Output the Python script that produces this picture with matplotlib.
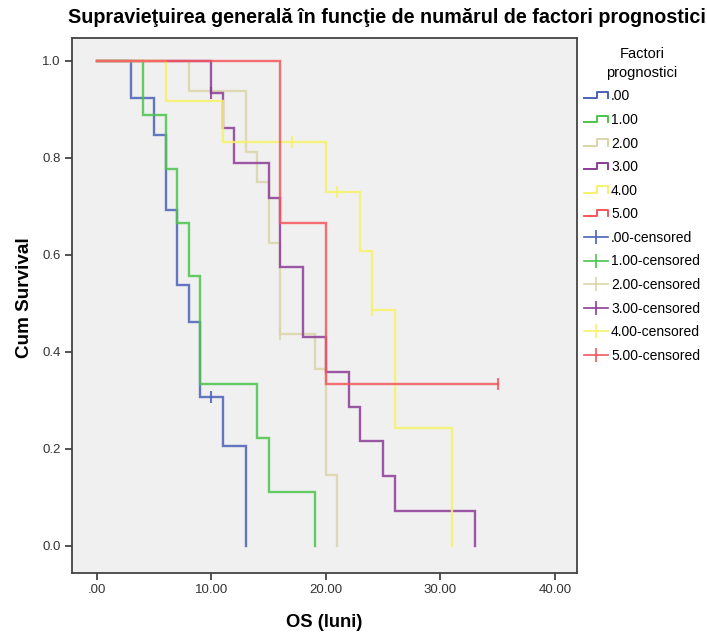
import matplotlib
matplotlib.use("Agg")
import matplotlib.pyplot as plt
from matplotlib.lines import Line2D
from matplotlib.legend_handler import HandlerBase

plt.rcParams['font.family'] = ['Liberation Sans', 'DejaVu Sans']

# survival time in months and status (1 = death, 0 = censored) per group
groups = ['.00', '1.00', '2.00', '3.00', '4.00', '5.00']
times_0 = [3, 5, 6, 6, 7, 7, 8, 9, 9, 10, 11, 13, 13]
event_0 = [1, 1, 1, 1, 1, 1, 1, 1, 1, 0, 1, 1, 1]
times_1 = [4, 6, 7, 8, 9, 9, 14, 15, 19]
event_1 = [1, 1, 1, 1, 1, 1, 1, 1, 1]
times_2 = [8, 13, 13, 14, 15, 15, 16, 16, 16, 16, 19, 20, 20, 20, 21, 21]
event_2 = [1, 1, 1, 1, 1, 1, 1, 1, 1, 0, 1, 1, 1, 1, 1, 1]
times_3 = [10, 10, 11, 12, 15, 16, 16, 18, 18, 20, 22, 23, 25, 26, 33]
event_3 = [1, 0, 1, 1, 1, 1, 1, 1, 1, 1, 1, 1, 1, 1, 1]
times_4 = [6, 11, 17, 17, 20, 21, 23, 24, 24, 24, 26, 31]
event_4 = [1, 1, 0, 0, 1, 0, 1, 1, 0, 0, 1, 1]
times_5 = [16, 20, 35]
event_5 = [1, 1, 0]

all_times = [times_0, times_1, times_2, times_3, times_4, times_5]
all_events = [event_0, event_1, event_2, event_3, event_4, event_5]
colors = ['#4a62b8', '#4cc44c', '#d9d5a9', '#8c3c96', '#f7f26a', '#f4565c']

x_ticks = [0, 10, 20, 30, 40]
x_ticklabels = ['.00', '10.00', '20.00', '30.00', '40.00']
y_ticks = [0.0, 0.2, 0.4, 0.6, 0.8, 1.0]


def kaplan_meier(times, events):
    xs, ys = [0], [1.0]
    cx, cy = [], []
    s = 1.0
    at_risk = len(times)
    for t in sorted(set(times)):
        d = sum(1 for ti, e in zip(times, events) if ti == t and e == 1)
        c = sum(1 for ti, e in zip(times, events) if ti == t and e == 0)
        if d > 0:
            new_s = s * (at_risk - d) / at_risk
            xs += [t, t]
            ys += [s, new_s]
            s = new_s
        if c > 0:
            cx.append(t)
            cy.append(s)
        at_risk -= d + c
    if xs[-1] != max(times):
        xs.append(max(times))
        ys.append(s)
    return xs, ys, cx, cy


class StepHandler(HandlerBase):
    def create_artists(self, legend, orig_handle, xdescent, ydescent,
                       width, height, fontsize, trans):
        x0, y0 = -xdescent, -ydescent
        xs = [x0, x0 + 0.55 * width, x0 + 0.55 * width, x0 + width, x0 + width]
        ys = [y0 + 0.2 * height, y0 + 0.2 * height, y0 + 0.85 * height,
              y0 + 0.85 * height, y0 + 0.2 * height]
        ln = Line2D(xs, ys, color=orig_handle.get_color(),
                    lw=orig_handle.get_linewidth())
        ln.set_transform(trans)
        return [ln]


fig = plt.figure(figsize=(7.07, 6.34), dpi=100)
ax = fig.add_axes([0.1018, 0.0962, 0.7143, 0.8438])
ax.set_facecolor('#f0f0f0')

step_handles, cens_handles = [], []
for name, times, events, col in zip(groups, all_times, all_events, colors):
    xs, ys, cx, cy = kaplan_meier(times, events)
    ax.plot(xs, ys, color=col, lw=1.7, alpha=0.85, solid_joinstyle='miter')
    if cx:
        ax.plot(cx, cy, ls='none', marker='|', ms=9, mew=1.5, color=col, alpha=0.85)
    step_handles.append(Line2D([], [], color=col, lw=1.4, label=name))
    cens_handles.append(Line2D([], [], color=col, lw=1.2, marker='|', ms=10,
                               mew=1.2, label=name + '-censored'))

ax.set_xlim(-2.18, 41.92)
ax.set_ylim(-0.0557, 1.047)
ax.set_xticks(x_ticks)
ax.set_xticklabels(x_ticklabels)
ax.set_yticks(y_ticks)
ax.set_yticklabels(['%.1f' % v for v in y_ticks])
ax.tick_params(direction='out', length=5, width=1.3, color='#444444',
               labelsize=9.5, labelcolor='#333333', pad=3)
for sp in ax.spines.values():
    sp.set_color('#444444')
    sp.set_linewidth(1.3)

ax.set_xlabel('OS (luni)', fontsize=13.2, fontweight='bold', labelpad=13)
ax.set_ylabel('Cum Survival', fontsize=13.6, fontweight='bold', labelpad=9)
ax.yaxis.set_label_coords(-0.078, 0.515)
fig.text(0.547, 0.973, 'Supravieţuirea generală în funcţie de numărul de factori prognostici',
         ha='center', va='center', fontsize=14.2, fontweight='bold')

handler_map = {h: StepHandler() for h in step_handles}
leg = fig.legend(handles=step_handles + cens_handles, handler_map=handler_map,
                 loc='upper left', bbox_to_anchor=(0.822, 0.9305),
                 title='Factori\nprognostici', title_fontsize=10.5, fontsize=10,
                 frameon=False, numpoints=1, handlelength=1.75, handletextpad=0.2,
                 labelspacing=0.69, borderaxespad=0, borderpad=0.2)
leg.get_title().set_multialignment('center')
leg.get_title().set_linespacing(1.45)

fig.savefig('out.png', dpi=100, facecolor='white')
